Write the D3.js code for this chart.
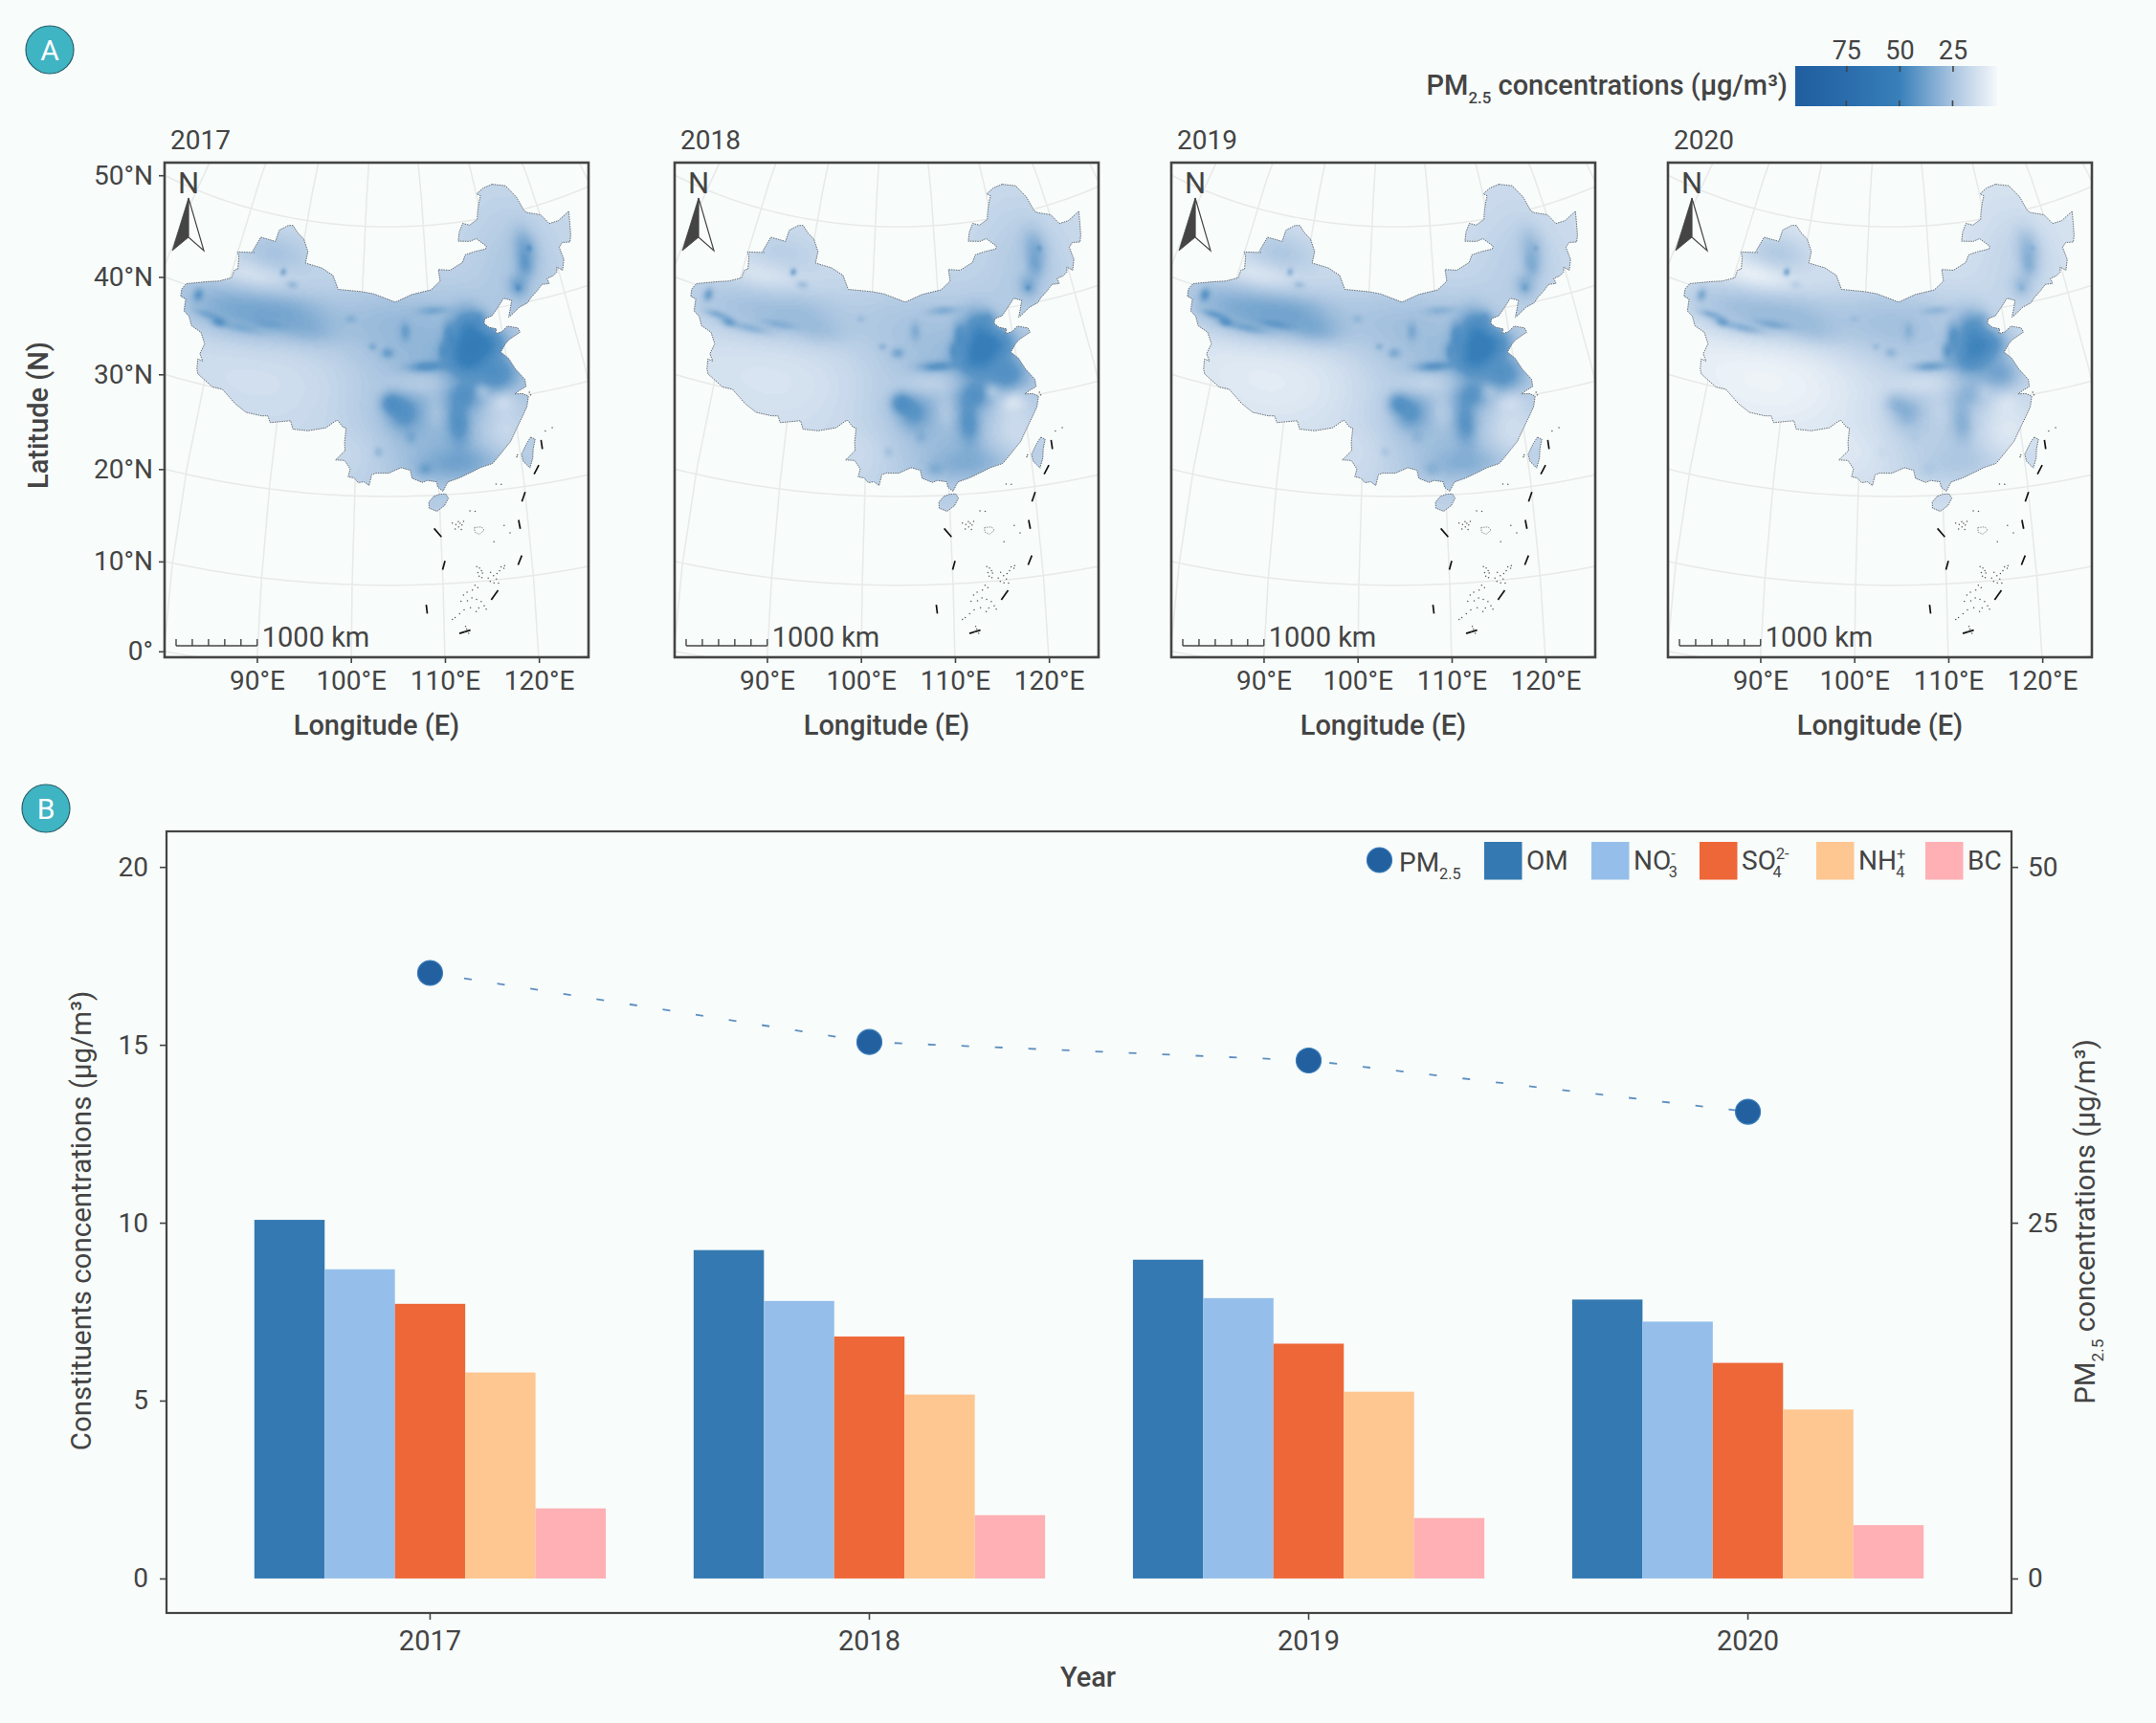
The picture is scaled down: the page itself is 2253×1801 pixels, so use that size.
<!DOCTYPE html>
<html>
<head>
<meta charset="utf-8">
<script src="https://cdn.jsdelivr.net/npm/d3@7"></script>
<style>
  html, body { margin: 0; background: #f8fcfb; }
  svg text { font-family: Roboto, sans-serif; fill: #444; }
</style>
</head>
<body>
<svg id="chart" width="2253" height="1801"></svg>
<script>
const years = ["2017", "2018", "2019", "2020"];

// Panel B values
const seriesNames = ["OM", "NO3", "SO4", "NH4", "BC"];
const omValues = [10.08, 9.23, 8.96, 7.84];
const no3Values = [8.69, 7.8, 7.88, 7.22];
const so4Values = [7.72, 6.8, 6.6, 6.06];
const nh4Values = [5.79, 5.17, 5.25, 4.75];
const bcValues = [1.97, 1.78, 1.7, 1.5];
const pmValues = [42.55, 37.7, 36.4, 32.8];
const seriesColors = ["#3479b1", "#95bfea", "#ee6738", "#fec691", "#feb0b4"];

// Map frame ticks
const latTicks = [50, 40, 30, 20, 10, 0];
const lonTicks = [90, 100, 110, 120];

// Colour bar
const barStops = [4, 25, 50, 75, 99];
const barColors = ["#f5f8fb", "#a9c4e0", "#3880ba", "#2a6cac", "#1f5e9f"];
const barTicks = [75, 50, 25];

// China outline, lon/lat, clockwise from the northern tip
const chinaOutline = [
  [123.3,53.5],[125.6,53.0],[126.9,51.5],[127.5,49.8],[128.0,49.5],[130.0,48.9],[130.9,47.7],[132.5,47.7],[134.7,48.3],
  [134.3,47.4],[133.6,45.8],[133.1,45.1],[131.9,45.3],[131.2,44.9],[131.3,43.5],[130.6,42.4],[129.9,42.9],[129.7,42.4],
  [129.0,42.1],[128.0,42.0],[128.1,41.4],[127.0,41.5],[126.0,40.9],[125.0,40.4],[124.3,39.9],[123.0,39.6],[121.6,38.9],
  [121.2,38.75],[121.6,39.5],[122.1,40.5],[121.0,40.9],[119.9,40.0],[118.9,39.2],[117.8,39.0],[117.6,38.5],[118.2,38.0],
  [119.2,37.7],[119.0,37.2],[119.9,37.3],[120.8,37.8],[122.2,37.4],[122.4,36.9],[120.7,36.3],[120.1,35.9],[119.3,35.1],
  [120.2,34.3],[120.9,33.0],[121.9,31.7],[121.9,30.9],[121.0,30.6],[120.3,30.3],[121.3,30.2],[122.0,29.8],[121.6,28.7],
  [121.0,27.9],[120.3,27.0],[119.7,26.2],[119.0,25.2],[118.2,24.5],[117.2,23.6],[116.5,23.0],[115.0,22.7],[114.2,22.4],
  [113.6,22.2],[112.5,21.8],[111.0,21.4],[110.4,20.4],[109.8,20.9],[109.7,21.5],[108.6,21.7],[108.0,21.5],[106.8,22.0],
  [106.6,22.9],[105.5,23.2],[104.0,22.6],[102.5,22.6],[102.0,22.4],[101.7,21.2],[101.1,21.6],[100.4,21.5],[99.9,22.0],
  [99.2,22.1],[99.4,23.0],[98.7,23.9],[97.6,23.9],[98.7,25.0],[98.6,25.9],[98.7,27.5],[98.3,27.6],[97.6,28.3],[97.3,28.2],
  [96.2,27.4],[94.0,26.9],[92.1,26.9],[91.7,27.8],[89.2,27.3],[88.8,28.0],[88.0,27.9],[86.0,28.0],[84.5,28.7],[82.5,30.0],
  [81.2,30.0],[79.0,31.0],[78.7,31.5],[78.5,32.6],[79.2,32.5],[78.6,33.2],[78.9,34.4],[78.0,35.5],[76.5,35.9],[75.8,36.8],
  [74.9,37.2],[74.6,38.5],[73.8,38.6],[73.6,39.4],[74.0,40.1],[75.6,40.6],[76.9,41.0],[78.5,41.4],[80.2,42.1],[80.3,43.0],
  [80.8,43.2],[80.4,44.6],[80.0,45.0],[81.9,45.3],[82.6,45.4],[82.3,45.5],[83.0,47.2],[85.5,47.1],[85.7,48.4],[87.0,49.1],
  [87.8,49.2],[88.8,48.5],[90.0,47.9],[91.0,46.6],[90.9,45.3],[93.5,45.0],[95.4,44.3],[96.4,42.8],[100.0,42.7],[101.8,42.5],
  [105.0,41.6],[107.5,42.4],[110.4,42.8],[111.9,43.7],[111.8,45.0],[113.6,44.8],[115.7,45.5],[116.3,46.3],[117.8,46.5],
  [119.7,46.6],[119.9,46.9],[118.5,47.9],[117.4,47.7],[115.5,47.9],[115.9,48.9],[116.7,49.8],[117.8,49.5],[119.3,50.0],
  [119.5,50.6],[120.1,51.7],[120.7,52.5],[120.1,52.8],[121.5,53.3],[123.3,53.5]
];
const taiwanOutline = [[121.5,25.3],[122.0,25.0],[121.6,24.0],[121.4,23.0],[120.9,21.95],[120.2,22.8],[120.1,23.6],[120.9,24.7],[121.5,25.3]];
const hainanOutline = [[110.7,20.1],[111.0,19.6],[110.5,18.8],[109.6,18.2],[108.7,18.6],[108.7,19.3],[109.3,19.9],[110.0,20.1],[110.7,20.1]];
const zhongshaRing = [[113.8,16.1],[114.6,16.1],[114.9,15.7],[114.3,15.3],[113.8,15.6],[113.8,16.1]];

// South China Sea dashes
const seaDashes = [
  [[122.7,24.8],[122.7,23.8]], [[122.0,22.1],[121.3,21.2]], [[120.0,19.4],[119.5,18.4]], [[118.9,16.4],[119.0,15.4]],
  [[118.9,12.4],[118.4,11.4]], [[116.0,8.8],[115.2,7.8]], [[112.8,4.55],[111.6,4.25]], [[108.1,7.7],[108.2,6.7]],
  [[110.3,12.6],[110.0,11.6]], [[109.2,16.3],[110.0,15.3]]
];

// Islets in the sea
const islets = [
  [111.3,16.8],[111.7,16.6],[112.0,16.9],[112.2,16.7],[112.4,16.5],[112.6,16.9],[112.0,16.3],[111.6,16.1],[112.3,16.0],
  [116.7,20.7],[117.3,20.6],[113.4,18.0],[114.0,17.9],[117.8,15.1],[117.2,16.0],[115.9,14.3],[116.0,10.7],
  [113.8,11.7],[114.1,11.5],[114.3,11.2],[113.9,11.0],[114.4,10.9],[114.0,10.6],[114.3,10.4],[115.0,10.3],[115.3,10.9],
  [115.6,10.5],[115.9,10.1],[115.2,9.9],[115.6,9.7],[116.1,9.6],[116.5,11.4],[116.8,11.2],[116.3,11.0],[116.9,11.5],
  [113.5,9.6],[113.8,9.3],[113.2,9.1],[112.6,8.9],[112.2,8.6],[111.9,7.9],[112.6,7.9],[113.1,8.2],[113.6,8.0],[114.1,7.7],
  [114.4,7.2],[113.8,7.0],[114.6,6.8],[113.5,6.6],[112.9,7.1],[112.2,6.9],[111.7,6.5],[111.2,6.1],[110.9,5.9],
  [112.3,5.0],[112.4,4.7],[112.2,4.4],[112.6,4.2],[123.4,25.7],[124.3,25.9],[119.6,23.6],[119.5,23.4],[122.2,30.2],[122.3,29.9]
];

// PM2.5 surface as soft spots on top of a yearly background
const fieldBase = [17, 16, 15, 12];
const spotLon = [112, 124, 82, 90, 87.6, 85.5, 76, 79.9, 93, 102,
  103.8, 106.3, 110.5, 112.5, 115.2, 114.5, 117.5, 109, 114, 118.5,
  112.8, 104.2, 105.8, 112.5, 108.3, 102.7, 106.7, 126, 125.2, 123.5,
  83, 108.5, 118, 110, 88, 116, 118.6, 101.7, 98.5, 89.3,
  78, 83, 87, 111.5, 126.6, 123.4, 100, 117];
const spotLat = [30, 44.5, 38.8, 39.8, 44, 45.9, 39.4, 37.1, 37.8, 39.5,
  36, 38.4, 40.6, 37.6, 38, 35, 36.3, 34.4, 31, 32.8,
  27.8, 30.5, 29.4, 23.4, 23, 25, 26.6, 46, 44, 42,
  43, 32.5, 27, 29.3, 32, 31.2, 29.8, 36.7, 39.7, 42.8,
  37.6, 37, 38, 36, 45.8, 41.8, 25, 39.3];
const spotSpreadLon = [8, 4.5, 6.5, 4, 0.35, 4, 0.5, 0.7, 2.5, 8,
  0.6, 0.5, 1.5, 0.6, 1.5, 1.8, 1.8, 1.6, 1.4, 1.8,
  0.9, 0.9, 1.3, 3.5, 0.6, 0.4, 0.5, 1.3, 0.9, 1,
  4, 3, 2.5, 1, 10, 0.8, 1.2, 0.4, 0.5, 0.6,
  1.2, 2, 1.8, 0.5, 0.3, 0.3, 3, 0.8];
const spotSpreadLat = [7, 4.5, 2, 1.6, 0.3, 1.5, 0.5, 0.35, 1, 3,
  0.4, 0.7, 0.35, 1, 1.6, 1.4, 1.2, 0.4, 1, 1.3,
  1.6, 0.8, 1.3, 1.2, 0.5, 0.4, 0.5, 1.5, 1, 0.9,
  1, 1, 2.5, 1.5, 4, 0.6, 0.8, 0.3, 0.3, 0.3,
  0.3, 0.35, 0.35, 0.7, 0.25, 0.25, 2, 0.6];
const spots2017 = [17, 6, 18, 8, 16, 8, 14, 14, 5, 8,
  12, 10, 10, 14, 30, 32, 30, 16, 14, 20,
  15, 18, 18, 10, 8, 8, 6, 14, 12, 14,
  -6, -9, -11, -7, -3, -10, -8, 8, 6, 10,
  8, 6, 5, 10, 10, 8, -3, 8];
const spots2018 = [16, 6, 10, 6, 20, 4, 16, 14, 5, 5,
  12, 8, 10, 14, 26, 30, 28, 16, 16, 20,
  15, 20, 16, 8, 6, 6, 5, 12, 10, 12,
  -5, -9, -11, -7, -4, -11, -10, 8, 5, 10,
  12, 10, 8, 10, 8, 8, -3, 8];
const spots2019 = [16, 5, 20, 10, 14, 8, 16, 14, 8, 8,
  10, 8, 8, 14, 28, 30, 28, 16, 14, 20,
  15, 16, 18, 8, 5, 5, 4, 10, 10, 12,
  -6, -9, -11, -7, -6, -8, -6, 8, 5, 9,
  12, 10, 8, 10, 6, 6, -3, 8];
const spots2020 = [12, 6, 15, 6, 22, 10, 14, 14, 5, 12,
  8, 6, 8, 14, 24, 24, 24, 16, 8, 16,
  10, 8, 12, 4, 3, 2, 2, 12, 10, 10,
  -7, -7, -9, -4, -6, -4, -4, 6, 3, 6,
  12, 12, 10, 12, 4, 4, -3, 6];
const spotsByYear = [spots2017, spots2018, spots2019, spots2020];

const svg = d3.select("#chart");
const ink = "#444";

const colorOf = d3.scaleLinear().domain(barStops).range(barColors).clamp(true);
const lut = d3.range(0, 121).map((v) => d3.color(colorOf(v)));

// Text with sub/superscripts; a part is [text, kind, dx]
function richText(parent, x, y, parts, size, attrs = {}) {
  const t = parent.append("text").attr("x", x).attr("y", y).attr("font-size", size);
  Object.entries(attrs).forEach(([k, v]) => t.attr(k, v));
  let shift = 0;
  parts.forEach(([str, kind, dx]) => {
    const target = kind === "sub" ? size * 0.3 : kind === "sup" ? -size * 0.38 : 0;
    const sp = t.append("tspan").text(str).attr("dy", target - shift);
    if (dx) sp.attr("dx", dx);
    if (kind) sp.attr("font-size", size * 0.58);
    shift = target;
  });
  return t;
}

function styleAxis(g, size) {
  g.select(".domain").remove();
  g.selectAll(".tick line").attr("stroke", ink).attr("stroke-width", 1.6);
  g.selectAll(".tick text").attr("font-size", size).attr("font-family", "Roboto, sans-serif").attr("fill", ink);
}

// Panel A ---------------------------------------------------------------
const mapW = 443, mapH = 517, mapTop = 170;
const mapLefts = [172, 705, 1224, 1743];

const projection = d3.geoAzimuthalEqualArea()
  .rotate([-104, -35])
  .scale(540)
  .translate([234, 208])
  .clipExtent([[0, 0], [mapW, mapH]]);
const geoPath = d3.geoPath(projection);

const landGeo = {
  type: "MultiPolygon",
  coordinates: [[chinaOutline], [taiwanOutline], [hainanOutline]]
};
const graticule = d3.geoGraticule().extent([[50, -12], [160, 75]]).step([10, 10]).precision(1)();

// Where a parallel or a meridian leaves the frame
function latCrossing(lat) {
  const xs = d3.range(50, 104, 0.05).map((lon) => projection([lon, lat]));
  return xs[d3.bisector((p) => p[0]).left(xs, 0)][1];
}
function lonCrossing(lon) {
  const ys = d3.range(-15, 30, 0.05).map((lat) => projection([lon, lat]));
  return ys[d3.leastIndex(ys, (a, b) => Math.abs(a[1] - mapH) - Math.abs(b[1] - mapH))][0];
}

function fieldImage(amps, base) {
  const cell = 2;
  const cw = Math.ceil(mapW / cell), ch = Math.ceil(mapH / cell);
  const coarse = document.createElement("canvas");
  coarse.width = cw; coarse.height = ch;
  const cctx = coarse.getContext("2d");
  const img = cctx.createImageData(cw, ch);
  for (let j = 0; j < ch; j++) {
    for (let i = 0; i < cw; i++) {
      const [lon, lat] = projection.invert([i * cell, j * cell]);
      let v = base;
      for (let s = 0; s < amps.length; s++) {
        const dx = (lon - spotLon[s]) / spotSpreadLon[s];
        const dy = (lat - spotLat[s]) / spotSpreadLat[s];
        const q = dx * dx + dy * dy;
        if (q < 16) v += amps[s] * Math.exp(-q / 2);
      }
      // overlapping spots flatten out near the top of the range
      if (v > 42) v = 42 + (v - 42) * 0.35;
      const c = lut[Math.max(0, Math.min(120, Math.round(v)))];
      const o = (j * cw + i) * 4;
      img.data[o] = c.r; img.data[o + 1] = c.g; img.data[o + 2] = c.b; img.data[o + 3] = 255;
    }
  }
  cctx.putImageData(img, 0, 0);

  const fine = document.createElement("canvas");
  fine.width = mapW; fine.height = mapH;
  const ctx = fine.getContext("2d");
  ctx.beginPath();
  d3.geoPath(projection, ctx)(landGeo);
  ctx.clip();
  ctx.imageSmoothingEnabled = true;
  ctx.drawImage(coarse, 0, 0, mapW, mapH);
  return fine.toDataURL();
}

const scaleKm = d3.scaleLinear().domain([0, 1000]).range([0, 1000 * projection.scale() / 6371]);

years.forEach((year, idx) => {
  const left = mapLefts[idx];
  const g = svg.append("g").attr("transform", `translate(${left},${mapTop})`);

  g.append("text").attr("x", 6).attr("y", -14).attr("font-size", 28).text(year);

  g.append("path").datum(graticule).attr("d", geoPath)
    .attr("fill", "none").attr("stroke", "#e8e9e9").attr("stroke-width", 1.5);

  g.append("image").attr("width", mapW).attr("height", mapH)
    .attr("href", fieldImage(spotsByYear[idx], fieldBase[idx]));

  g.append("path").datum(landGeo).attr("d", geoPath)
    .attr("fill", "none").attr("stroke", "#4a4f55").attr("stroke-width", 0.8)
    .attr("stroke-dasharray", "1.5 1");

  g.append("path").datum({ type: "LineString", coordinates: zhongshaRing }).attr("d", geoPath)
    .attr("fill", "none").attr("stroke", "#666").attr("stroke-width", 0.7).attr("stroke-dasharray", "1.5 1");

  g.selectAll("path.dash").data(seaDashes).join("path").attr("class", "dash")
    .attr("d", (d) => geoPath({ type: "LineString", coordinates: d }))
    .attr("fill", "none").attr("stroke", "#111").attr("stroke-width", 1.7);

  g.selectAll("circle.islet").data(islets).join("circle").attr("class", "islet")
    .attr("cx", (d) => projection(d)[0]).attr("cy", (d) => projection(d)[1])
    .attr("r", 0.75).attr("fill", "#555");

  // north arrow
  g.append("text").attr("x", 25).attr("y", 32).attr("text-anchor", "middle").attr("font-size", 31).text("N");
  g.append("path").attr("d", "M25,37 L8,92 L25,78 Z").attr("fill", ink).attr("stroke", ink).attr("stroke-width", 0.8);
  g.append("path").attr("d", "M25,37 L41,92 L25,78 Z").attr("fill", "#fbfdfd").attr("stroke", ink).attr("stroke-width", 1.2);

  // scale bar
  const bar = g.append("g").attr("transform", "translate(12,505)");
  bar.append("line").attr("x1", scaleKm(0)).attr("x2", scaleKm(1000)).attr("stroke", ink).attr("stroke-width", 1.6);
  bar.selectAll("line.t").data(d3.range(0, 1001, 200)).join("line").attr("class", "t")
    .attr("x1", scaleKm).attr("x2", scaleKm).attr("y1", 0).attr("y2", -7)
    .attr("stroke", ink).attr("stroke-width", 1.4);
  bar.append("text").attr("x", scaleKm(1000) + 5).attr("y", 1).attr("font-size", 29).text("1000 km");

  g.append("rect").attr("width", mapW).attr("height", mapH)
    .attr("fill", "none").attr("stroke", ink).attr("stroke-width", 2.6);

  // axes sit on the points where the graticule meets the frame
  const lonScale = d3.scaleOrdinal().domain(lonTicks).range(lonTicks.map(lonCrossing));
  const xAxis = g.append("g").attr("transform", `translate(0,${mapH})`)
    .call(d3.axisBottom(lonScale).tickSize(6).tickSizeOuter(0).tickPadding(8).tickFormat((d) => `${d}°E`));
  styleAxis(xAxis, 28);

  if (idx === 0) {
    const latScale = d3.scaleOrdinal().domain(latTicks).range(latTicks.map(latCrossing));
    const yAxis = g.append("g")
      .call(d3.axisLeft(latScale).tickSize(6).tickSizeOuter(0).tickPadding(6).tickFormat((d) => (d === 0 ? "0°" : `${d}°N`)));
    styleAxis(yAxis, 28);
  }

  svg.append("text").attr("x", left + mapW / 2).attr("y", 768).attr("text-anchor", "middle")
    .attr("font-size", 29).attr("font-weight", 500).text("Longitude (E)");
});

svg.append("text").attr("transform", "translate(50,434) rotate(-90)").attr("text-anchor", "middle")
  .attr("font-size", 29).attr("font-weight", 500).text("Latitude (N)");

// Colour bar
const barX = d3.scaleLinear().domain([0, 99]).range([2096, 1876]);
const defs = svg.append("defs");
const grad = defs.append("linearGradient").attr("id", "pmGrad");
grad.selectAll("stop").data(barStops.slice().reverse()).join("stop")
  .attr("offset", (d) => (barX(d) - barX(99)) / (barX(4) - barX(99)))
  .attr("stop-color", (d) => colorOf(d));
svg.append("rect").attr("x", barX(99)).attr("y", 69).attr("width", barX(4) - barX(99)).attr("height", 42).attr("fill", "url(#pmGrad)");
const barAxis = svg.append("g").attr("transform", "translate(0,69)")
  .call(d3.axisTop(barX).tickValues(barTicks).tickSize(-6).tickSizeOuter(0).tickPadding(7));
styleAxis(barAxis, 27);
svg.selectAll(null).data(barTicks).join("line")
  .attr("x1", barX).attr("x2", barX).attr("y1", 105).attr("y2", 111)
  .attr("stroke", ink).attr("stroke-width", 1.6);
richText(svg, 1868, 99, [["PM"], ["2.5", "sub"], [" concentrations (µg/m³)"]], 29, { "text-anchor": "end", "font-weight": 500 });

// Panel tags
[["A", 52, 52], ["B", 48, 845]].forEach(([tag, cx, cy]) => {
  svg.append("circle").attr("cx", cx).attr("cy", cy).attr("r", 25)
    .attr("fill", "#3fb4c3").attr("stroke", "#27606b").attr("stroke-width", 1.2);
  svg.append("text").attr("x", cx).attr("y", cy + 11).attr("text-anchor", "middle")
    .attr("font-size", 30).style("fill", "#fff").text(tag);
});

// Panel B ---------------------------------------------------------------
const plot = { left: 174, right: 2102, top: 869, bottom: 1686 };
const x0 = d3.scaleBand().domain(years).range([plot.left, plot.right]).paddingInner(0.2).paddingOuter(0.2);
const x1 = d3.scaleBand().domain(seriesNames).range([0, x0.bandwidth()]);
const yLeft = d3.scaleLinear().domain([-0.97, 21]).range([plot.bottom, plot.top]);
const yRight = d3.scaleLinear().domain([-2.425, 52.5]).range([plot.bottom, plot.top]);
const seriesValues = [omValues, no3Values, so4Values, nh4Values, bcValues];

const barsG = svg.append("g");
seriesNames.forEach((name, s) => {
  barsG.selectAll(null).data(seriesValues[s]).join("rect")
    .attr("x", (d, i) => x0(years[i]) + x1(name))
    .attr("y", (d) => yLeft(d))
    .attr("width", x1.bandwidth())
    .attr("height", (d) => yLeft(0) - yLeft(d))
    .attr("fill", seriesColors[s]);
});

const centerX = (d, i) => x0(years[i]) + x0.bandwidth() / 2;
svg.append("path").datum(pmValues)
  .attr("d", d3.line().x(centerX).y((d) => yRight(d)))
  .attr("fill", "none").attr("stroke", "#5d8fc0").attr("stroke-width", 1.8)
  .attr("stroke-dasharray", "8 27").attr("stroke-dashoffset", -1);
svg.selectAll(null).data(pmValues).join("circle")
  .attr("cx", centerX).attr("cy", (d) => yRight(d)).attr("r", 13)
  .attr("fill", "#22609f").attr("stroke", "#3a7dbb").attr("stroke-width", 1.2);

svg.append("rect").attr("x", plot.left).attr("y", plot.top)
  .attr("width", plot.right - plot.left).attr("height", plot.bottom - plot.top)
  .attr("fill", "none").attr("stroke", ink).attr("stroke-width", 2.2);

styleAxis(svg.append("g").attr("transform", `translate(${plot.left},0)`)
  .call(d3.axisLeft(yLeft).tickValues([0, 5, 10, 15, 20]).tickSize(7).tickSizeOuter(0).tickPadding(12)), 28);
styleAxis(svg.append("g").attr("transform", `translate(${plot.right},0)`)
  .call(d3.axisRight(yRight).tickValues([0, 25, 50]).tickSize(7).tickSizeOuter(0).tickPadding(10)), 28);
styleAxis(svg.append("g").attr("transform", `translate(0,${plot.bottom})`)
  .call(d3.axisBottom(x0).tickSize(7).tickSizeOuter(0).tickPadding(11)), 29);

svg.append("text").attr("x", 1137).attr("y", 1763).attr("text-anchor", "middle")
  .attr("font-size", 29).attr("font-weight", 500).text("Year");
svg.append("text").attr("transform", "translate(95,1276) rotate(-90)").attr("text-anchor", "middle")
  .attr("font-size", 29.5).text("Constituents concentrations (µg/m³)");
richText(svg.append("g").attr("transform", "translate(2189,1277) rotate(-90)"), 0, 0,
  [["PM"], ["2.5", "sub"], [" concentrations (µg/m³)"]], 29.5, { "text-anchor": "middle" });

// Legend
const legendSwatchX = [1551, 1663, 1776, 1898, 2012];
const legendParts = [
  [["OM"]],
  [["NO"], ["-", "sup"], ["3", "sub", -7]],
  [["SO"], ["2-", "sup"], ["4", "sub", -17]],
  [["NH"], ["+", "sup"], ["4", "sub", -10]],
  [["BC"]]
];
svg.append("circle").attr("cx", 1441.5).attr("cy", 899).attr("r", 13)
  .attr("fill", "#22609f").attr("stroke", "#3a7dbb").attr("stroke-width", 1.2);
richText(svg, 1462, 911, [["PM"], ["2.5", "sub"]], 28);
legendSwatchX.forEach((lx, i) => {
  svg.append("rect").attr("x", lx).attr("y", 880).attr("width", 39.5).attr("height", 39.5).attr("fill", seriesColors[i]);
  richText(svg, lx + 44, 909, legendParts[i], 28);
});
</script>
</body>
</html>
